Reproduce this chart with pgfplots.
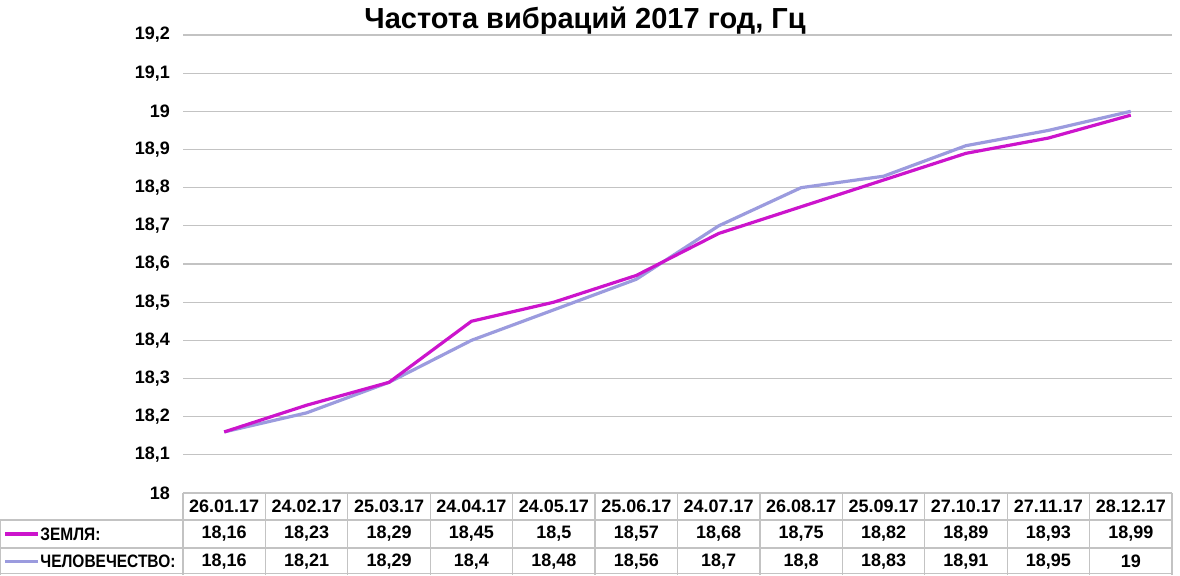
\documentclass[border=0pt]{standalone}
\usepackage{fontspec}
\setmainfont{Liberation Sans}
\usepackage{graphicx}
\usepackage{pgfplots}
\usepackage{pgfplotstable}
\pgfplotsset{compat=1.18}
\definecolor{zem}{RGB}{204,20,204}
\definecolor{chel}{RGB}{155,155,222}
\definecolor{gridc}{RGB}{195,195,195}

\pgfplotstableread{
x date zem chel
0 26.01.17 18.16 18.16
1 24.02.17 18.23 18.21
2 25.03.17 18.29 18.29
3 24.04.17 18.45 18.4
4 24.05.17 18.5 18.48
5 25.06.17 18.57 18.56
6 24.07.17 18.68 18.7
7 26.08.17 18.75 18.8
8 25.09.17 18.82 18.83
9 27.10.17 18.89 18.91
10 27.11.17 18.93 18.95
11 28.12.17 18.99 19
}\data

\begin{document}
\begin{tikzpicture}[x=1pt,y=1pt]
\useasboundingbox (0,0) rectangle (590,287.5);
\begin{axis}[
  at={(91.5pt,41pt)}, anchor=south west,
  scale only axis, width=494.5pt, height=229pt,
  xmin=-0.5, xmax=11.5, ymin=18, ymax=19.2,
  ytick={18,18.1,...,19.25},
  xtick=\empty,
  axis line style={draw=none},
  major tick length=0pt,
  ymajorgrids, grid style={gridc, line width=0.6pt},
  clip=false,
  /pgf/number format/assume math mode=true,
  /pgf/number format/use comma,
  yticklabel style={font=\fontsize{9}{11}\selectfont\bfseries, xshift=-3pt},
  nodes near coords style={font=\fontsize{9}{11}\selectfont\bfseries, anchor=center, inner sep=0pt},
]
\addplot[chel, line width=1.6pt, mark=none] table[x=x, y=chel]{\data};
\addplot[zem, line width=1.6pt, mark=none] table[x=x, y=zem]{\data};
% table rows
\addplot[draw=none, mark=none, nodes near coords, point meta=explicit symbolic]
  table[x=x, y expr=17.9646, meta=date]{\data};
\addplot[draw=none, mark=none, nodes near coords={\pgfmathprintnumber[use comma, fixed, precision=2]{\pgfplotspointmeta}}, point meta=\thisrow{zem}]
  table[x=x, y expr=17.8926]{\data};
\addplot[draw=none, mark=none, nodes near coords={\pgfmathprintnumber[use comma, fixed, precision=2]{\pgfplotspointmeta}}, point meta=\thisrow{chel}]
  table[x=x, y expr=17.8205]{\data};
\end{axis}
% table borders
\begin{scope}[gridc, line width=0.6pt]
  \draw (91.5,41) -- (586,41);
  \draw (0,27.5) -- (586,27.5);
  \draw (0,13.5) -- (586,13.5);
  \draw (0,0.8) -- (586,0.8);
  \draw (0,0) -- (0,27.5);
  \foreach \k in {0,...,12} {
    \draw ({91.5+\k*41.2083},0) -- ({91.5+\k*41.2083},41);
  }
\end{scope}
\draw[zem, line width=1.6pt] (2.5,20.5) -- (19,20.5);
\node[anchor=west, inner sep=0pt, font=\fontsize{9}{11}\selectfont\bfseries] at (20,20.5) {\scalebox{0.86}[1]{ЗЕМЛЯ:}};
\draw[chel, line width=1.6pt] (2.5,6.75) -- (19,6.75);
\node[anchor=west, inner sep=0pt, font=\fontsize{9}{11}\selectfont\bfseries] at (20,6.75) {\scalebox{0.86}[1]{ЧЕЛОВЕЧЕСТВО:}};
\node[font=\fontsize{14.5}{17}\selectfont\bfseries] at (292.5,277) {Частота вибраций 2017 год, Гц};
\end{tikzpicture}
\end{document}
